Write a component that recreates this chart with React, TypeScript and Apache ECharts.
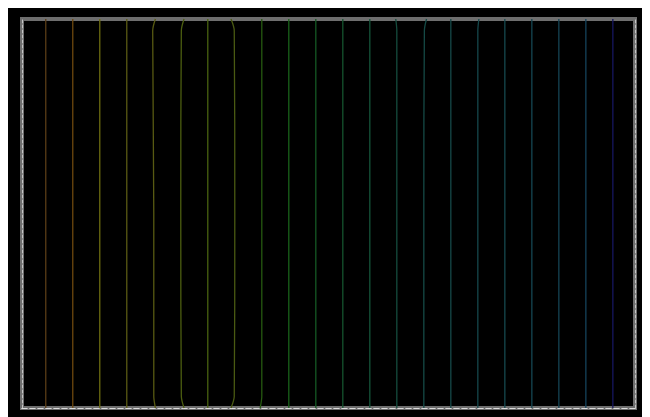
import React, { useEffect, useRef } from "react";
import * as echarts from "echarts";

// Vertical traces: base x position (1..22) and small end offsets
const positions = [1, 2, 3, 4, 5, 6, 7, 8, 9, 10, 11, 12, 13, 14, 15, 16, 17, 18, 19, 20, 21, 22];
// y sample levels (percent of height)
const levels = [100, 97, 50, 3, 0];
// x offsets (in axis units) at each level, per trace
const offsets = [
  [0, 0, 0, 0, 0],
  [0, 0, 0, 0, 0],
  [0, 0, 0, 0, 0],
  [0, 0, 0, 0, 0],
  [0.06, -0.04, 0, 0, 0.06],
  [0.12, 0.02, 0, 0.02, 0.12],
  [0, 0, 0, 0, 0],
  [-0.14, -0.02, 0, -0.02, -0.14],
  [0, 0, 0, 0, -0.06],
  [0, 0, 0, 0, 0],
  [0, 0, 0, 0, 0],
  [0, 0, 0, 0, 0],
  [0, 0, 0, 0, 0],
  [-0.04, 0, 0, 0, 0],
  [0.1, 0.02, 0, 0, 0],
  [0, 0, 0, 0, 0],
  [0.04, 0, 0, 0, 0],
  [0, 0, 0, 0, 0],
  [0, 0, 0, 0, 0],
  [0, 0, 0, 0, 0],
  [0, 0, 0, 0, 0],
  [0, 0, 0, 0, 0],
];
const colors = [
  "#5a3c16", "#6e480e", "#6c6c10", "#5a5a14", "#585a12", "#4c5e10",
  "#486210", "#4a5a12", "#265a10", "#19621a", "#155824", "#15542e",
  "#15543a", "#154c3e", "#154a46", "#154848", "#15484c", "#15484e",
  "#154652", "#154454", "#15425a", "#161660",
];

export default function App() {
  const ref = useRef<HTMLDivElement>(null);
  useEffect(() => {
    if (!ref.current) return;
    const chart = echarts.init(ref.current, null, { renderer: "svg" });
    const series = positions.map((p, i) => ({
      type: "line",
      smooth: 0.3,
      symbol: "none",
      lineStyle: { color: colors[i], width: 1.3 },
      data: levels.map((lv, k) => [p + offsets[i][k], lv]),
    }));
    const dashed = { show: true, lineStyle: { color: "#dcdcdc", type: [5, 3], width: 1 } };
    const dashedV = { show: true, lineStyle: { color: "#c4c4c4", type: [3, 2], width: 1 } };
    chart.setOption({
      animation: false,
      backgroundColor: "#000",
      grid: {
        left: 14,
        right: 23,
        top: 11,
        bottom: 17,
        show: true,
        borderColor: "#6e6e6e",
        borderWidth: 4,
        backgroundColor: "transparent",
      },
      xAxis: [
        {
          type: "value", min: 0.12, max: 22.82, position: "bottom",
          axisLine: dashed, axisTick: { show: false }, axisLabel: { show: false }, splitLine: { show: false },
        },
        {
          type: "value", min: 0.12, max: 22.82, position: "top",
          axisLine: dashed, axisTick: { show: false }, axisLabel: { show: false }, splitLine: { show: false },
        },
      ],
      yAxis: [
        {
          type: "value", min: 0, max: 100, position: "left",
          axisLine: dashedV, axisTick: { show: false }, axisLabel: { show: false }, splitLine: { show: false },
        },
        {
          type: "value", min: 0, max: 100, position: "right",
          axisLine: dashedV, axisTick: { show: false }, axisLabel: { show: false }, splitLine: { show: false },
        },
      ],
      series,
    });
    return () => chart.dispose();
  }, []);
  return <div ref={ref} style={{ width: 650, height: 417 }} />;
}
